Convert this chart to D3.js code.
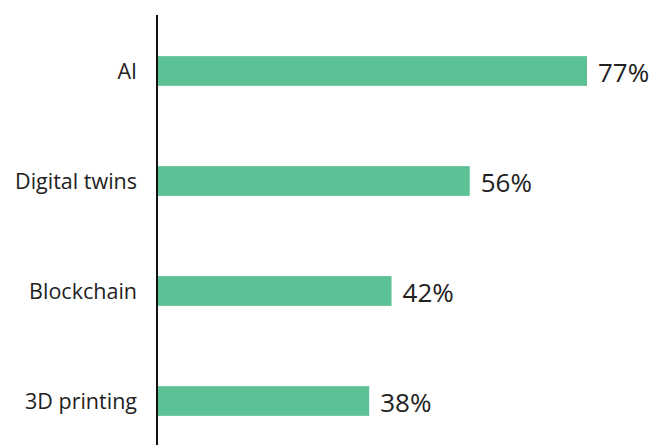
<!DOCTYPE html>
<html>
<head>
<meta charset="utf-8">
<style>
  body { margin: 0; background: #fff; }
  svg { display: block; font-family: "Open Sans", "DejaVu Sans", sans-serif; }
</style>
</head>
<body>
<svg width="652" height="445"></svg>
<script src="https://d3js.org/d3.v7.min.js"></script>
<script>
var categories = ["AI", "Digital twins", "Blockchain", "3D printing"];
var values = [77, 56, 42, 38];

var svg = d3.select("svg"),
    margin = {top: 16, left: 157},
    barColor = "#5cc296";

var x = d3.scaleLinear()
    .domain([0, 77])
    .range([margin.left, 587]);

var y = d3.scaleBand()
    .domain(categories)
    .range([16, 456])
    .paddingInner(0.73)
    .paddingOuter(0.365);

var data = categories.map(function(c, i) { return {name: c, value: values[i]}; });

svg.selectAll("rect.bar")
    .data(data)
  .enter().append("rect")
    .attr("class", "bar")
    .attr("x", x(0))
    .attr("y", function(d) { return y(d.name); })
    .attr("width", function(d) { return x(d.value) - x(0); })
    .attr("height", y.bandwidth())
    .attr("fill", barColor);

// vertical axis line
svg.append("line")
    .attr("x1", margin.left).attr("x2", margin.left)
    .attr("y1", 15).attr("y2", 445)
    .attr("stroke", "#111")
    .attr("stroke-width", 2);

svg.selectAll("text.cat")
    .data(data)
  .enter().append("text")
    .attr("class", "cat")
    .attr("x", 137)
    .attr("y", function(d) { return y(d.name) + y.bandwidth() / 2; })
    .attr("dy", "0.35em")
    .attr("text-anchor", "end")
    .attr("font-size", 21.5)
    .attr("fill", "#222")
    .text(function(d) { return d.name; });

svg.selectAll("text.val")
    .data(data)
  .enter().append("text")
    .attr("class", "val")
    .attr("x", function(d) { return x(d.value) + 11; })
    .attr("y", function(d) { return y(d.name) + y.bandwidth() / 2 + 2; })
    .attr("dy", "0.35em")
    .attr("font-size", 26)
    .attr("fill", "#222")
    .text(function(d) { return d.value + "%"; });
</script>
</body>
</html>
